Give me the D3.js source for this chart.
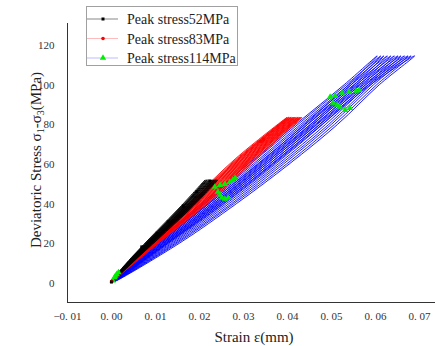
<!DOCTYPE html>
<html><head><meta charset="utf-8">
<script src="https://cdn.jsdelivr.net/npm/d3@7"></script>
<style>body{margin:0;background:#fff}svg{display:block}</style>
</head><body><svg id="c" width="435" height="346"></svg>
<script>
// ---------- data ----------
const xTicks = [-0.01, 0, 0.01, 0.02, 0.03, 0.04, 0.05, 0.06, 0.07];
const xTickLabels = ["\u22120. 01", "0. 00", "0. 01", "0. 02", "0. 03", "0. 04", "0. 05", "0. 06", "0. 07"];
const yTicks = [0, 20, 40, 60, 80, 100, 120];
const seriesNames = ["Peak stress52MPa", "Peak stress83MPa", "Peak stress114MPa"];

// stress levels visited in every cycle (loading up, peak, unloading down)
const blackLevels = [1, 13, 26, 39, 52, 39, 26, 13];
const redLevels = [1, 21, 42, 62.5, 83.5, 62.5, 42, 21];
const blueLevels = [1, 20, 40, 60, 80, 100, 114.5, 100, 80, 60, 40, 20];

// strain at each stress level, one row per loading-unloading cycle
const blackCycles = [
  [0.0000, 0.0050, 0.0107, 0.0165, 0.0214, 0.0160, 0.0103, 0.0047],
  [0.0000, 0.0051, 0.0109, 0.0167, 0.0217, 0.0162, 0.0105, 0.0048],
  [0.0001, 0.0052, 0.0111, 0.0169, 0.0219, 0.0164, 0.0106, 0.0049],
  [0.0001, 0.0053, 0.0112, 0.0171, 0.0222, 0.0166, 0.0108, 0.0050],
  [0.0002, 0.0054, 0.0114, 0.0173, 0.0225, 0.0168, 0.0110, 0.0051],
  [0.0002, 0.0055, 0.0116, 0.0175, 0.0227, 0.0171, 0.0111, 0.0052],
  [0.0002, 0.0057, 0.0117, 0.0178, 0.0230, 0.0173, 0.0113, 0.0053],
  [0.0003, 0.0058, 0.0119, 0.0180, 0.0233, 0.0175, 0.0115, 0.0054],
  [0.0003, 0.0059, 0.0121, 0.0182, 0.0235, 0.0177, 0.0116, 0.0055],
  [0.0003, 0.0060, 0.0122, 0.0184, 0.0238, 0.0179, 0.0118, 0.0056],
  [0.0004, 0.0061, 0.0124, 0.0186, 0.0240, 0.0182, 0.0119, 0.0057],
  [0.0004, 0.0062, 0.0126, 0.0188, 0.0243, 0.0184, 0.0121, 0.0058]
];
const blackEnd = [0.0004, 1];

const redCycles = [
  [-0.0002, 0.0095, 0.0190, 0.0288, 0.0400, 0.0282, 0.0186, 0.0092],
  [-0.0002, 0.0096, 0.0193, 0.0291, 0.0403, 0.0285, 0.0189, 0.0093],
  [-0.0001, 0.0098, 0.0196, 0.0294, 0.0405, 0.0288, 0.0192, 0.0095],
  [-0.0001, 0.0099, 0.0199, 0.0298, 0.0408, 0.0291, 0.0195, 0.0096],
  [-0.0001, 0.0101, 0.0202, 0.0301, 0.0410, 0.0294, 0.0198, 0.0097],
  [0.0000, 0.0102, 0.0205, 0.0304, 0.0413, 0.0297, 0.0201, 0.0099],
  [0.0000, 0.0103, 0.0208, 0.0307, 0.0416, 0.0300, 0.0203, 0.0100],
  [0.0000, 0.0105, 0.0212, 0.0311, 0.0418, 0.0304, 0.0206, 0.0101],
  [0.0001, 0.0106, 0.0215, 0.0314, 0.0421, 0.0307, 0.0209, 0.0102],
  [0.0001, 0.0107, 0.0218, 0.0317, 0.0424, 0.0310, 0.0212, 0.0104],
  [0.0002, 0.0109, 0.0221, 0.0320, 0.0426, 0.0313, 0.0215, 0.0105],
  [0.0002, 0.0110, 0.0224, 0.0323, 0.0429, 0.0316, 0.0218, 0.0106],
  [0.0003, 0.0112, 0.0227, 0.0327, 0.0431, 0.0319, 0.0221, 0.0108],
  [0.0003, 0.0113, 0.0230, 0.0330, 0.0434, 0.0322, 0.0224, 0.0109]
];
const redEnd = [0.0003, 1];

const blueCycles = [
  [0.0003, 0.0110, 0.0222, 0.0335, 0.0440, 0.0540, 0.0605, 0.0530, 0.0420, 0.0312, 0.0205, 0.0100],
  [0.0004, 0.0114, 0.0228, 0.0341, 0.0447, 0.0546, 0.0613, 0.0535, 0.0425, 0.0317, 0.0210, 0.0103],
  [0.0004, 0.0118, 0.0233, 0.0348, 0.0454, 0.0553, 0.0620, 0.0541, 0.0431, 0.0323, 0.0214, 0.0105],
  [0.0005, 0.0122, 0.0239, 0.0354, 0.0460, 0.0559, 0.0628, 0.0546, 0.0436, 0.0328, 0.0219, 0.0108],
  [0.0006, 0.0126, 0.0245, 0.0360, 0.0467, 0.0565, 0.0636, 0.0552, 0.0442, 0.0333, 0.0223, 0.0111],
  [0.0006, 0.0130, 0.0250, 0.0367, 0.0474, 0.0572, 0.0644, 0.0557, 0.0447, 0.0338, 0.0228, 0.0114],
  [0.0007, 0.0134, 0.0257, 0.0374, 0.0481, 0.0579, 0.0652, 0.0563, 0.0453, 0.0344, 0.0233, 0.0117],
  [0.0007, 0.0138, 0.0262, 0.0380, 0.0488, 0.0585, 0.0659, 0.0568, 0.0458, 0.0349, 0.0237, 0.0119],
  [0.0008, 0.0142, 0.0268, 0.0386, 0.0495, 0.0591, 0.0667, 0.0574, 0.0464, 0.0354, 0.0242, 0.0122],
  [0.0009, 0.0146, 0.0274, 0.0392, 0.0501, 0.0597, 0.0675, 0.0579, 0.0469, 0.0360, 0.0246, 0.0125],
  [0.0009, 0.0150, 0.0279, 0.0399, 0.0508, 0.0604, 0.0682, 0.0585, 0.0475, 0.0365, 0.0251, 0.0127],
  [0.0010, 0.0155, 0.0285, 0.0405, 0.0515, 0.0610, 0.0690, 0.0590, 0.0480, 0.0370, 0.0255, 0.0130]
];
const blueEnd = [0.0010, 1];

// sampled marker points
const blackMarkers = [[0.0001, 0.5], [0.0070, 18.2], [0.0105, 25.2], [0.0130, 30.8], [0.0164, 38.8], [0.0195, 45.9], [0.0225, 51.4]];
const redMarkers = [[0.0002, 0.8], [0.0340, 71.5], [0.0347, 72.3]];
const greenMarkers = [
  [0.0004, 1.2], [0.0008, 2.8], [0.0010, 3.6], [0.0013, 4.4], [0.0017, 5.3],
  [0.0236, 48.4], [0.0248, 49.4], [0.0259, 49.9], [0.0270, 50.9], [0.0277, 51.9], [0.0282, 52.9],
  [0.0243, 45.9], [0.0248, 44.4], [0.0252, 42.9], [0.0259, 42.4], [0.0266, 42.9],
  [0.0498, 93.8], [0.0509, 94.3], [0.0525, 95.8], [0.0541, 96.3], [0.0557, 96.8], [0.0564, 97.3],
  [0.0505, 90.8], [0.0514, 89.8], [0.0520, 88.8], [0.0532, 87.2], [0.0543, 88.2]
];

// ---------- chart ----------
const svg = d3.select("#c");
const x = d3.scaleLinear().domain([-0.01, 0.07]).range([67, 419]);
const y = d3.scaleLinear().domain([0, 120]).range([283, 45]);
const serif = "'Liberation Serif', 'DejaVu Serif', serif";

function flatten(cycles, levels, end) {
  const pts = [];
  cycles.forEach(row => row.forEach((e, i) => pts.push([e, levels[i]])));
  pts.push(end);
  return pts;
}
const line = d3.line().x(d => x(d[0])).y(d => y(d[1])).curve(d3.curveCatmullRom.alpha(0.5));

const plot = svg.append("g");
plot.append("path").datum(flatten(blueCycles, blueLevels, blueEnd))
  .attr("d", line).attr("fill", "none").attr("stroke", "#0000ff").attr("stroke-width", 0.9);
plot.append("path").datum(flatten(redCycles, redLevels, redEnd))
  .attr("d", line).attr("fill", "none").attr("stroke", "#ff0000").attr("stroke-width", 0.9);
plot.append("path").datum(flatten(blackCycles, blackLevels, blackEnd))
  .attr("d", line).attr("fill", "none").attr("stroke", "#000000").attr("stroke-width", 0.9);

const tri = d3.symbol().type(d3.symbolTriangle).size(18);
plot.selectAll(".gm").data(greenMarkers).join("path")
  .attr("transform", d => `translate(${x(d[0])},${y(d[1])})`)
  .attr("d", tri).attr("fill", "#00ee00");
plot.selectAll(".rm").data(redMarkers).join("circle")
  .attr("cx", d => x(d[0])).attr("cy", d => y(d[1])).attr("r", 1.8).attr("fill", "#ff0000");
plot.selectAll(".bm").data(blackMarkers).join("rect")
  .attr("x", d => x(d[0]) - 1.5).attr("y", d => y(d[1]) - 1.5)
  .attr("width", 3).attr("height", 3).attr("fill", "#000");

// axes
const xAxis = svg.append("g").attr("transform", "translate(0,302.5)")
  .call(d3.axisBottom(x).tickValues(xTicks).tickSize(0).tickPadding(10)
    .tickFormat((d, i) => xTickLabels[i]));
xAxis.select(".domain").attr("d", "M67,0H435").attr("stroke", "#333");
xAxis.selectAll("text").attr("font-family", serif).attr("font-size", 11).attr("fill", "#333");

const yAxis = svg.append("g").attr("transform", "translate(67.5,0)")
  .call(d3.axisLeft(y).tickValues(yTicks).tickSize(0).tickPadding(13));
yAxis.select(".domain").attr("d", "M0,302.5V23").attr("stroke", "#333");
yAxis.selectAll("text").attr("font-family", serif).attr("font-size", 11).attr("fill", "#333");

// titles
svg.append("text").attr("x", 254).attr("y", 342).attr("text-anchor", "middle")
  .attr("font-family", serif).attr("font-size", 15).attr("fill", "#222").text("Strain \u03b5(mm)");
const yt = svg.append("text").attr("transform", "translate(41,160) rotate(-90)")
  .attr("text-anchor", "middle").attr("font-family", serif).attr("font-size", 15).attr("fill", "#222");
yt.append("tspan").text("Deviatoric Stress \u03c3");
yt.append("tspan").attr("dy", 3).attr("font-size", 10).text("1");
yt.append("tspan").attr("dy", -3).text("-\u03c3");
yt.append("tspan").attr("dy", 3).attr("font-size", 10).text("3");
yt.append("tspan").attr("dy", -3).text("(MPa)");

// legend
const leg = svg.append("g");
leg.append("rect").attr("x", 86.5).attr("y", 6.5).attr("width", 151).attr("height", 59)
  .attr("fill", "#fff").attr("stroke", "#a0a0a0");
const legColors = ["#000000", "#ff0000", "#0000ff"];
const legRows = [19, 38.5, 58];
seriesNames.forEach((name, i) => {
  const ry = legRows[i];
  leg.append("line").attr("x1", 87).attr("x2", 118).attr("y1", ry).attr("y2", ry)
    .attr("stroke", legColors[i]).attr("stroke-width", 0.6).attr("stroke-opacity", i === 0 ? 0.8 : 0.45);
  if (i === 0) leg.append("rect").attr("x", 101.5).attr("y", ry - 1.5).attr("width", 3).attr("height", 3).attr("fill", "#000");
  if (i === 1) leg.append("circle").attr("cx", 103).attr("cy", ry).attr("r", 1.8).attr("fill", "#ff0000");
  if (i === 2) leg.append("path").attr("transform", `translate(103,${ry})`).attr("d", tri).attr("fill", "#00ee00");
  leg.append("text").attr("x", 127).attr("y", ry + 5).attr("font-family", serif).attr("font-size", 14)
    .attr("fill", "#222").text(name);
});
</script></body></html>
